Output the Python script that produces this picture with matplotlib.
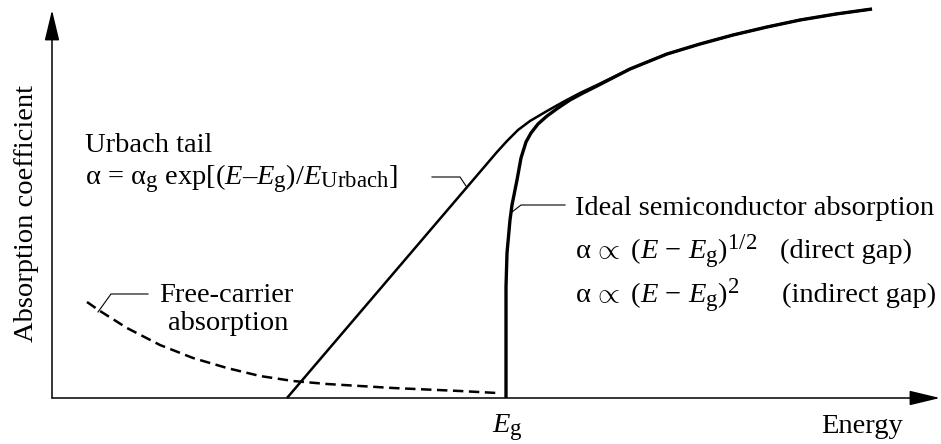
import matplotlib
matplotlib.use("Agg")
import matplotlib.pyplot as plt
import matplotlib._mathtext as _mt

plt.rcParams['font.family'] = ['Liberation Serif', 'DejaVu Serif']
plt.rcParams['mathtext.fontset'] = 'custom'
plt.rcParams['mathtext.rm'] = 'Liberation Serif'
plt.rcParams['mathtext.it'] = 'Liberation Serif:italic'
plt.rcParams['mathtext.bf'] = 'Liberation Serif:bold'
plt.rcParams['lines.scale_dashes'] = False
# slightly larger sub/superscripts, as in the reference typesetting
_mt.SHRINK_FACTOR = 0.8

# ---- data (arbitrary units) ----
# Urbach tail: straight (exponential on this scale) rising part
urbach_energy = [235, 445, 455, 466, 478, 495, 511, 528, 545]
urbach_alpha = [0, 246, 257, 268, 277, 287, 296, 305, 313]
# Ideal semiconductor absorption (onset at Eg)
ideal_energy = [454, 454, 455, 458, 460, 465, 469, 474, 479, 486, 495, 506, 518, 531, 545]
ideal_alpha = [0, 111, 145, 178, 193, 218, 240, 256, 265, 274, 282, 290, 298, 305, 312]
# common high-energy branch
upper_energy = [578, 615, 648, 681, 715, 748, 784, 820]
upper_alpha = [329, 344, 354, 363, 371, 378, 384, 389]
# free-carrier absorption (dashed)
fc_energy = [35, 48, 75, 108, 141, 175, 208, 241, 275, 341, 408, 445]
fc_alpha = [96, 87, 70, 53, 40, 30, 22, 17, 14, 10, 7, 5]

x_label = "Energy"
y_label = "Absorption coefficient"
eg_label = r"$E_{\rm g}$"

FS = 20.5

fig = plt.figure(figsize=(9.41, 4.44), dpi=100)
ax = fig.add_axes([52 / 941, 46 / 444, 888 / 941, 388 / 444])
ax.set_xlim(0, 888)
ax.set_ylim(0, 388)
ax.axis('off')

# axes with arrows
arrow_kw = dict(arrowstyle='-|>,head_length=1.0,head_width=0.24', mutation_scale=19,
                lw=1.1, color='black', shrinkA=0, shrinkB=0)
ax.annotate('', xy=(0, 1), xytext=(0, 0), xycoords='axes fraction', arrowprops=arrow_kw)
ax.annotate('', xy=(1, 0), xytext=(0, 0), xycoords='axes fraction', arrowprops=arrow_kw)

# curves
ax.plot(urbach_energy + upper_energy, urbach_alpha + upper_alpha, color='black', lw=1.8,
        solid_capstyle='butt', solid_joinstyle='round', clip_on=False)
ax.plot(ideal_energy + upper_energy, ideal_alpha + upper_alpha, color='black', lw=2.4,
        solid_capstyle='butt', solid_joinstyle='round', clip_on=False)
ax.plot(fc_energy, fc_alpha, color='black', lw=1.8, linestyle=(0, (7.5, 4)), clip_on=False)

# leader lines
lead_kw = dict(color='black', lw=0.8, clip_on=False)
ax.plot([380, 408, 414], [221, 221, 212], **lead_kw)
ax.plot([460, 469, 513], [186, 193, 193], **lead_kw)
ax.plot([46, 59, 96], [86, 104, 104], **lead_kw)

# texts
ax.text(33, 246, "Urbach tail", fontsize=FS, ha='left', va='baseline')
ax.text(33, 213, r"α = α$_{\rm g}$ exp[($E$–$E_{\rm g}$)/$E_{\rm Urbach}$]",
        fontsize=FS, ha='left', va='baseline')
ax.text(523, 183, "Ideal semiconductor absorption", fontsize=FS, ha='left', va='baseline')
ax.text(523, 140, r"α$\,\propto$ ($E$ − $E_{\rm g}$)$^{1/2}$", fontsize=FS, ha='left', va='baseline')
ax.text(728, 140, "(direct gap)", fontsize=FS, ha='left', va='baseline')
ax.text(523, 96, r"α$\,\propto$ ($E$ − $E_{\rm g}$)$^{2}$", fontsize=FS, ha='left', va='baseline')
ax.text(730, 96, "(indirect gap)", fontsize=FS, ha='left', va='baseline')
ax.text(174, 96, "Free-carrier", fontsize=FS, ha='center', va='baseline')
ax.text(176, 68, "absorption", fontsize=FS, ha='center', va='baseline')

ax.text(-25, 185, y_label, fontsize=FS, rotation=90, ha='center', va='center', clip_on=False)
ax.text(810, -35, x_label, fontsize=FS, ha='center', va='baseline', clip_on=False)
ax.text(455, -35, eg_label, fontsize=FS, ha='center', va='baseline', clip_on=False)

fig.savefig("out.png", dpi=100, facecolor='white')
